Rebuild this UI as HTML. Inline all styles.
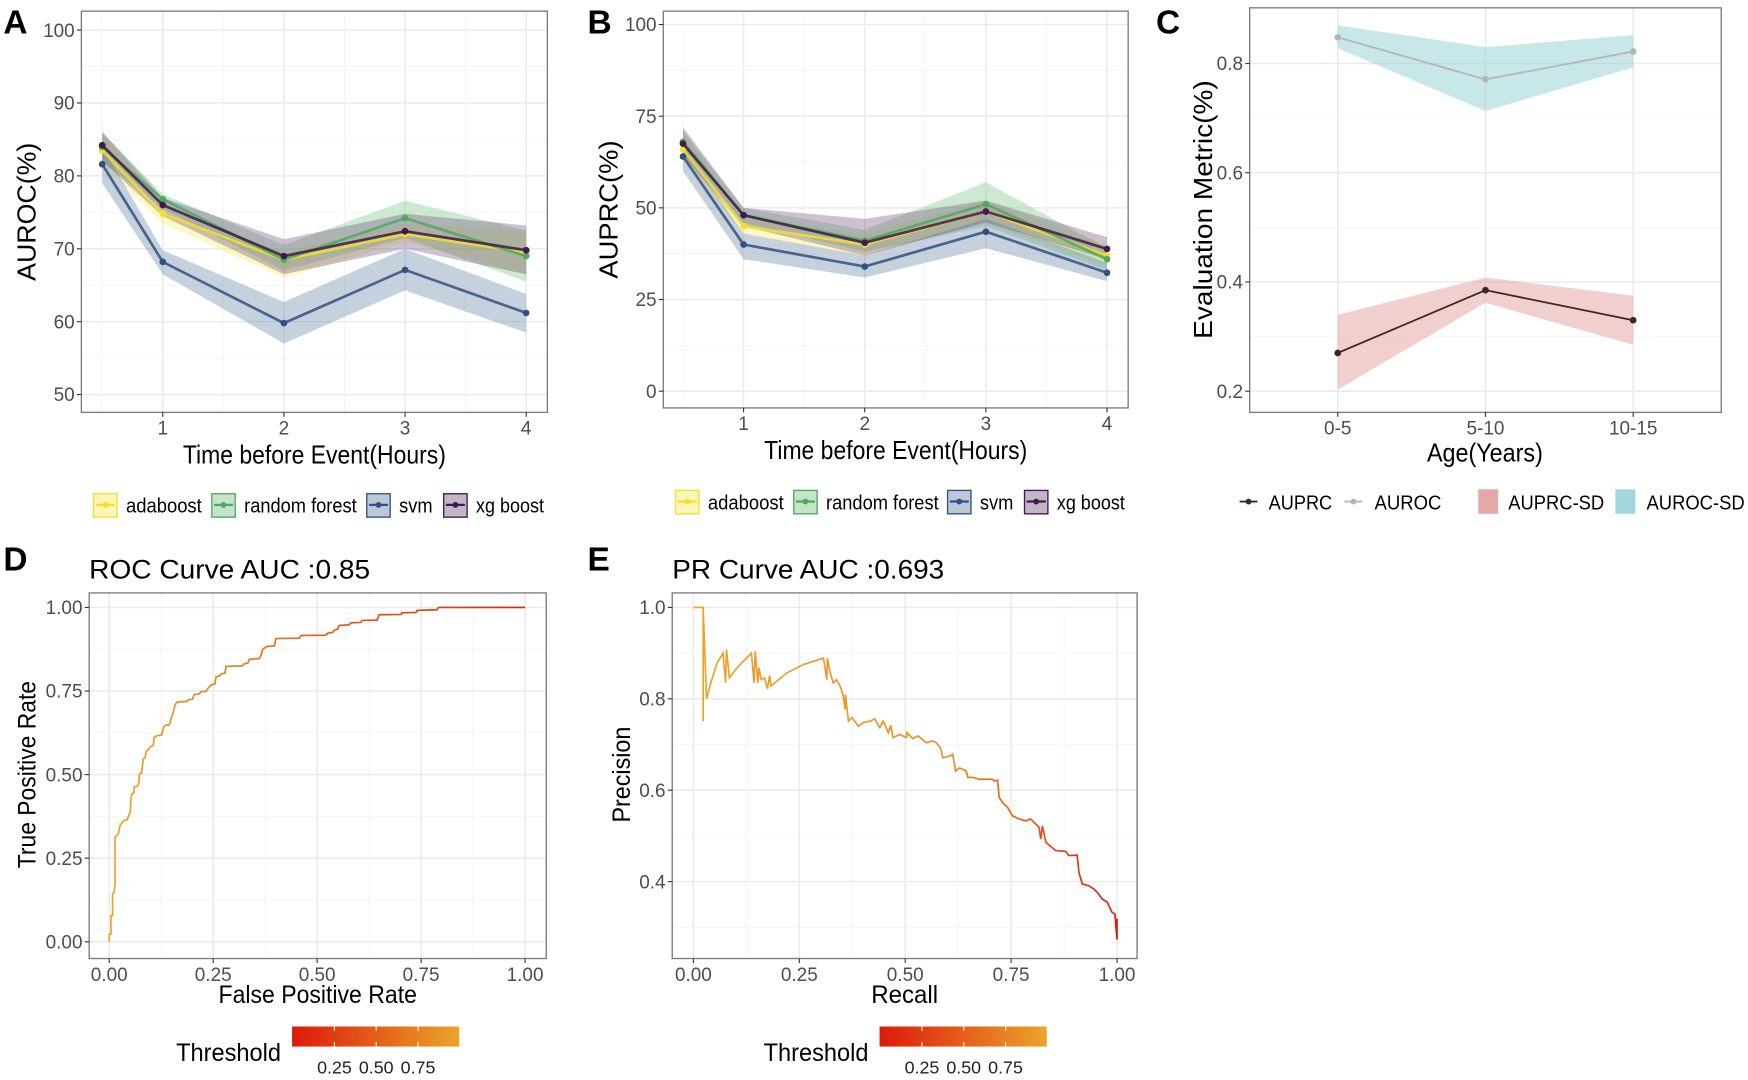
<!DOCTYPE html>
<html><head><meta charset="utf-8"><style>
html,body{margin:0;padding:0;background:#fff;}
svg{display:block;font-family:"Liberation Sans",sans-serif;}
</style></head><body>
<svg id="fig" width="1748" height="1080" viewBox="0 0 1568 969" preserveAspectRatio="none" xmlns="http://www.w3.org/2000/svg">
<defs>
<linearGradient id="cbar" x1="0" x2="1" y1="0" y2="0"><stop offset="0" stop-color="#DD1A0A"/><stop offset="1" stop-color="#EBA42A"/></linearGradient>
<linearGradient id="rocg" gradientUnits="userSpaceOnUse" x1="98" x2="471" y1="0" y2="0"><stop offset="0" stop-color="#EBA42A"/><stop offset="0.5" stop-color="#E2641E"/><stop offset="1" stop-color="#DD2010"/></linearGradient>
<linearGradient id="prg" gradientUnits="userSpaceOnUse" x1="622" x2="1002" y1="0" y2="0"><stop offset="0" stop-color="#EBA42A"/><stop offset="0.6" stop-color="#E8902A"/><stop offset="1" stop-color="#DD1A0A"/></linearGradient>
</defs>
</svg>
<script>
// ---------- DATA ----------
const hours = [0.5, 1, 2, 3, 4];
const models = ["adaboost", "random forest", "svm", "xg boost"];
const aurocMean = [[83.5,74.8,68.5,72.0,69.5],[84.0,76.8,68.5,74.2,69.0],[81.6,68.2,59.8,67.1,61.2],[84.2,76.0,69.0,72.4,69.8]];
const aurocLo = [[81.5,73.5,66.0,71.0,66.5],[82.0,75.5,67.0,71.5,65.5],[79.0,66.5,57.0,64.3,58.5],[82.0,74.5,66.5,70.0,66.5]];
const aurocHi = [[86.0,76.0,69.5,73.5,72.5],[86.0,77.5,70.5,76.6,72.5],[84.0,69.8,62.7,70.0,63.8],[86.0,77.0,71.3,74.8,73.2]];
const auprcMean = [[66.0,45.0,40.0,49.0,37.0],[68.0,48.0,41.0,51.0,36.0],[64.0,40.0,34.0,43.5,32.3],[67.5,48.0,40.5,49.0,38.8]];
const auprcLo = [[63,43,37,46,34],[65,46,38,45,33],[60,36,31,39,30],[64,45,37,46,36]];
const auprcHi = [[71,47,43,52,40],[71,50,44,57,39],[67,43,37,47,35],[72,50,47,52,42]];
const ageGroups = ["0-5","5-10","10-15"];
const ageAuroc = [0.848,0.771,0.822];
const ageAurocLo = [0.828,0.713,0.793];
const ageAurocHi = [0.870,0.830,0.852];
const ageAuprc = [0.270,0.385,0.330];
const ageAuprcLo = [0.203,0.362,0.285];
const ageAuprcHi = [0.340,0.408,0.375];
const rocFpr = [0,0,.004,.004,.008,.008,.012,.014,.014,.018,.022,.026,.030,.036,.043,.047,.051,.052,.055,.059,.060,.068,.071,.073,.078,.082,.086,.089,.094,.099,.106,.108,.114,.126,.131,.136,.145,.150,.155,.158,.163,.187,.190,.200,.204,.217,.221,.233,.238,.245,.254,.257,.265,.269,.278,.281,.321,.325,.333,.337,.361,.365,.369,.379,.397,.401,.457,.461,.521,.525,.537,.541,.549,.553,.577,.581,.605,.608,.644,.649,.702,.704,.738,.740,.788,.792,1];
const rocTpr = [0,.023,.023,.078,.078,.143,.148,.178,.313,.318,.323,.348,.355,.363,.365,.378,.391,.428,.443,.445,.463,.465,.475,.503,.505,.548,.550,.570,.575,.583,.588,.611,.616,.618,.643,.648,.649,.673,.691,.708,.717,.719,.724,.725,.739,.742,.748,.749,.759,.768,.771,.793,.795,.801,.803,.824,.825,.832,.833,.845,.847,.857,.875,.883,.885,.907,.908,.916,.917,.923,.925,.932,.935,.946,.948,.954,.955,.961,.962,.978,.979,.984,.985,.991,.993,1,1];
const prRecall = [0,.016,.023,.023,.023,.031,.041,.056,.070,.076,.078,.085,.103,.137,.143,.146,.152,.155,.160,.168,.175,.180,.183,.221,.260,.307,.315,.316,.323,.330,.338,.346,.354,.358,.359,.366,.374,.381,.389,.401,.417,.428,.440,.448,.460,.466,.471,.487,.503,.504,.518,.530,.550,.565,.573,.583,.589,.605,.612,.619,.628,.644,.648,.659,.675,.706,.710,.718,.722,.730,.742,.753,.769,.785,.796,.816,.820,.824,.832,.855,.879,.886,.906,.910,.918,.933,.945,.953,.965,.977,.988,.995,1,1];
const prPrecision = [1,1,1,.751,1,.800,.835,.879,.900,.835,.908,.846,.868,.900,.835,.904,.835,.868,.842,.846,.822,.851,.828,.857,.875,.889,.842,.889,.857,.835,.842,.828,.806,.777,.809,.751,.759,.751,.740,.748,.751,.756,.737,.751,.726,.742,.715,.722,.715,.726,.713,.719,.704,.708,.704,.693,.671,.675,.679,.642,.649,.642,.628,.628,.624,.624,.620,.622,.584,.573,.562,.544,.537,.533,.537,.519,.493,.522,.486,.468,.466,.457,.458,.420,.395,.391,.384,.377,.362,.355,.333,.329,.273,.319];

// ---------- HELPERS ----------
const NS = "http://www.w3.org/2000/svg";
const svg = document.getElementById('fig');
function mk(tag, attrs, parent, text){
  const e = document.createElementNS(NS, tag);
  for (const k in attrs) e.setAttribute(k, attrs[k]);
  if (text !== undefined) e.textContent = text;
  (parent || svg).appendChild(e);
  return e;
}
const modelColors = ["#F2E02A","#4FA860","#34507E","#3E1A4E"];
const modelFill = ["#F7EC60","#7CC48A","#6A86A8","#7A5A86"];
const tickCol = "#4D4D4D";

function panelFrame(g, x0, x1, y0, y1, xMajor, xMinor, yMajor, yMinor){
  mk('rect',{x:x0,y:y0,width:x1-x0,height:y1-y0,fill:'#fff'},g);
  yMinor.forEach(y=>{const l=mk('line',{x1:x0,x2:x1,y1:y,y2:y,stroke:'#F4F4F4','stroke-width':0.8},g);});
  xMinor.forEach(x=>{const l=mk('line',{x1:x,x2:x,y1:y0,y2:y1,stroke:'#F4F4F4','stroke-width':0.8},g);});
  yMajor.forEach(y=>{const l=mk('line',{x1:x0,x2:x1,y1:y,y2:y,stroke:'#EBEBEB','stroke-width':1.4},g);});
  xMajor.forEach(x=>{const l=mk('line',{x1:x,x2:x,y1:y0,y2:y1,stroke:'#EBEBEB','stroke-width':1.4},g);});
}
function panelBorder(g,x0,x1,y0,y1){
  const r=mk('rect',{x:x0,y:y0,width:x1-x0,height:y1-y0,fill:'none',stroke:'#7A7A7A','stroke-width':1.2},g);
  
}
function xTicks(g, positions, labels, y1, size){
  positions.forEach((x,i)=>{
    mk('line',{x1:x,x2:x,y1:y1,y2:y1+4,stroke:'#333','stroke-width':1},g);
    const t=mk('text',{x:x,y:y1+20,'text-anchor':'middle','font-size':size||17,fill:tickCol},g,labels[i]);
    
  });
}
function yTicks(g, positions, labels, x0, size){
  positions.forEach((y,i)=>{
    mk('line',{x1:x0-4,x2:x0,y1:y,y2:y,stroke:'#333','stroke-width':1},g);
    const t=mk('text',{x:x0-6,y:y+6,'text-anchor':'end','font-size':size||17,fill:tickCol},g,labels[i]);
    
  });
}
function label(g,txt,x,y,size,name,opts){
  const a=Object.assign({x:x,y:y,'font-size':size,fill:'#000'},opts||{});
  const t=mk('text',a,g,txt);
  
  return t;
}
function yTitle(g,txt,x,cy,size,len){
  const t=mk('text',{x:0,y:0,'text-anchor':'middle','font-size':size,fill:'#000',transform:`translate(${x},${cy}) rotate(-90)`,textLength:len,lengthAdjust:'spacingAndGlyphs'},g,txt);
  
}
function ribbonPath(xs, lo, hi, X, Y){
  let d='';
  xs.forEach((v,i)=>{d+=(i?'L':'M')+X(v)+','+Y(hi[i]);});
  for(let i=xs.length-1;i>=0;i--) d+='L'+X(xs[i])+','+Y(lo[i]);
  return d+'Z';
}
function linePath(xs, ys, X, Y){
  return xs.map((v,i)=>(i?'L':'M')+X(v)+','+Y(ys[i])).join('');
}

// ---------- PANELS A & B ----------
function timePanel(name, letter, lx, x0, x1, y0, y1, X, Y, yVals, yLabs, yMin, mean, lo, hi, ytitle, ytx, legY, legX){
  const g=mk('g',{});
  
  panelFrame(g,x0,x1,y0,y1,[1,2,3,4].map(X),[0.5,1.5,2.5,3.5].map(X),yVals.map(Y),yMin.map(Y));
  models.forEach((m,k)=>{
    const p=mk('path',{d:ribbonPath(hours,lo[k],hi[k],X,Y),fill:modelFill[k],'fill-opacity':0.38,stroke:'none'},g);
    
  });
  models.forEach((m,k)=>{
    const p=mk('path',{d:linePath(hours,mean[k],X,Y),fill:'none',stroke:modelColors[k],'stroke-width':2.4,'stroke-opacity':0.85},g);
    
    hours.forEach((h,i)=>{
      const c=mk('circle',{cx:X(h),cy:Y(mean[k][i]),r:3,fill:modelColors[k]},g);
      
    });
  });
  panelBorder(g,x0,x1,y0,y1);
  xTicks(g,[1,2,3,4].map(X),['1','2','3','4'],y1);
  yTicks(g,yVals.map(Y),yLabs,x0);
  label(g,'Time before Event(Hours)',(x0+x1)/2,y1+46,23,'x-axis-title',{'text-anchor':'middle',textLength:236,lengthAdjust:'spacingAndGlyphs'});
  yTitle(g,ytitle,ytx,(y0+y1)/2,23,124);
  label(g,letter,lx,30,30,'panel-label',{'font-weight':'bold'});
  const legW=[68,101,30,61];
  models.forEach((m,k)=>{
    const lg=mk('g',{},g);
    
    const kx=legX[k];
    mk('rect',{x:kx,y:legY-10,width:21,height:21,fill:modelFill[k],'fill-opacity':0.45,stroke:modelColors[k],'stroke-width':1.2},lg);
    mk('line',{x1:kx+2,x2:kx+19,y1:legY,y2:legY,stroke:modelColors[k],'stroke-width':2},lg);
    mk('circle',{cx:kx+10.5,cy:legY,r:2.6,fill:modelColors[k]},lg);
    label(lg,m,kx+29,legY+7,18,'legend-label',{textLength:legW[k],lengthAdjust:'spacingAndGlyphs'});
  });
}
const XA=h=>146+(h-1)*108.67, YA=v=>354-(v-50)*6.54;
timePanel('panel-a-auroc','A',3,73,491,10,370,XA,YA,[50,60,70,80,90,100],['50','60','70','80','90','100'],[55,65,75,85,95],aurocMean,aurocLo,aurocHi,'AUROC(%)',32,453,[84,190,329,398]);
const XB=h=>667+(h-1)*108.67, YB=v=>351-v*3.29;
timePanel('panel-b-auprc','B',527,595,1012,10,366,XB,YB,[0,25,50,75,100],['0','25','50','75','100'],[12.5,37.5,62.5,87.5],auprcMean,auprcLo,auprcHi,'AUPRC(%)',554,450,[606,712,850,919]);

// ---------- PANEL C ----------
(function(){
  const g=mk('g',{});
  const x0=1121,x1=1544,y0=7,y1=370;
  const X=i=>1200+i*132.5, Y=v=>351-(v-0.2)*490;
  const idx=ageGroups.map((_,i)=>i);
  panelFrame(g,x0,x1,y0,y1,idx.map(X),[],[0.2,0.4,0.6,0.8].map(Y),[0.3,0.5,0.7].map(Y));
  let p=mk('path',{d:ribbonPath(idx,ageAurocLo,ageAurocHi,X,Y),fill:'#8FCFD3','fill-opacity':0.5},g);
  
  p=mk('path',{d:ribbonPath(idx,ageAuprcLo,ageAuprcHi,X,Y),fill:'#E5A0A0','fill-opacity':0.5},g);
  
  p=mk('path',{d:linePath(idx,ageAuroc,X,Y),fill:'none',stroke:'#B5B5B5','stroke-width':1.6},g);
  
  p=mk('path',{d:linePath(idx,ageAuprc,X,Y),fill:'none',stroke:'#3A2828','stroke-width':1.6},g);
  
  idx.forEach(i=>{
    let c=mk('circle',{cx:X(i),cy:Y(ageAuroc[i]),r:3,fill:'#B5B5B5'},g);
    c=mk('circle',{cx:X(i),cy:Y(ageAuprc[i]),r:3,fill:'#3A2828'},g);
  });
  panelBorder(g,x0,x1,y0,y1);
  xTicks(g,idx.map(X),ageGroups,y1);
  yTicks(g,[0.2,0.4,0.6,0.8].map(Y),['0.2','0.4','0.6','0.8'],x0);
  label(g,'Age(Years)',1332,414,23,'x-axis-title',{'text-anchor':'middle',textLength:104,lengthAdjust:'spacingAndGlyphs'});
  yTitle(g,'Evaluation Metric(%)',1087,188,23,232);
  label(g,'C',1037,30,30,'panel-label',{'font-weight':'bold'});
  const ly=450;
  let lg=mk('g',{},g);
  mk('line',{x1:1112,x2:1128,y1:ly,y2:ly,stroke:'#3A2828','stroke-width':1.6},lg);mk('circle',{cx:1120,cy:ly,r:2.6,fill:'#3A2828'},lg);
  label(lg,'AUPRC',1138,ly+7,18,'legend-label',{textLength:57,lengthAdjust:'spacingAndGlyphs'});
  lg=mk('g',{},g);
  mk('line',{x1:1206,x2:1222,y1:ly,y2:ly,stroke:'#B5B5B5','stroke-width':1.6},lg);mk('circle',{cx:1214,cy:ly,r:2.6,fill:'#B5B5B5'},lg);
  label(lg,'AUROC',1233,ly+7,18,'legend-label',{textLength:60,lengthAdjust:'spacingAndGlyphs'});
  lg=mk('g',{},g);
  mk('rect',{x:1326,y:ly-11,width:18,height:22,fill:'#E5A8A8'},lg);
  label(lg,'AUPRC-SD',1353,ly+7,18,'legend-label',{textLength:86,lengthAdjust:'spacingAndGlyphs'});
  lg=mk('g',{},g);
  mk('rect',{x:1449,y:ly-11,width:18,height:22,fill:'#A2D6DA'},lg);
  label(lg,'AUROC-SD',1477,ly+7,18,'legend-label',{textLength:88,lengthAdjust:'spacingAndGlyphs'});
})();

// ---------- PANELS D & E ----------
function curvePanel(name, letter, lx, x0, x1, y0, y1, X, Y, xVals, xLabs, xMin, yVals, yLabs, yMin, xs, ys, grad, title, titleLen, xtitle, xtLen, ytitle, ytLen, ytx, cbx){
  const g=mk('g',{});
  panelFrame(g,x0,x1,y0,y1,xVals.map(X),xMin.map(X),yVals.map(Y),yMin.map(Y));
  const p=mk('path',{d:linePath(xs,ys,X,Y),fill:'none',stroke:grad,'stroke-width':1.5,'stroke-linejoin':'miter'},g);
  
  panelBorder(g,x0,x1,y0,y1);
  xTicks(g,xVals.map(X),xLabs,y1);
  yTicks(g,yVals.map(Y),yLabs,x0);
  label(g,title,x0,y0-13,24,'chart-title',{textLength:titleLen,lengthAdjust:'spacingAndGlyphs'});
  label(g,xtitle,(x0+x1)/2,y1+40,22,'x-axis-title',{'text-anchor':'middle',textLength:xtLen,lengthAdjust:'spacingAndGlyphs'});
  yTitle(g,ytitle,ytx,695,22,ytLen);
  label(g,letter,lx,512,30,'panel-label',{'font-weight':'bold'});
  const cb=mk('g',{},g);
  label(cb,'Threshold',cbx-104,952,22,'colorbar-title',{textLength:94,lengthAdjust:'spacingAndGlyphs'});
  mk('rect',{x:cbx,y:921,width:150,height:18,fill:'url(#cbar)'},cb);
  [0.25,0.5,0.75].forEach((v,i)=>{
    const tx=cbx+38+i*37.5;
    mk('line',{x1:tx,x2:tx,y1:921,y2:925,stroke:'#fff','stroke-width':1},cb);
    mk('line',{x1:tx,x2:tx,y1:935,y2:939,stroke:'#fff','stroke-width':1},cb);
    label(cb,v.toFixed(2),tx,963,16,'colorbar-tick-label',{'text-anchor':'middle',fill:'#222'});
  });
}
const XD=f=>98+f*373, YD=t=>845-t*300;
curvePanel('panel-d-roc','D',3,80,490,532,860,XD,YD,[0,.25,.5,.75,1],['0.00','0.25','0.50','0.75','1.00'],[.125,.375,.625,.875],[0,.25,.5,.75,1],['0.00','0.25','0.50','0.75','1.00'],[.125,.375,.625,.875],rocFpr,rocTpr,'url(#rocg)','ROC Curve AUC :0.85',252,'False Positive Rate',178,'True Positive Rate',168,32,262);
const XE=r=>622+r*380, YE=p=>545+(1-p)*410;
curvePanel('panel-e-pr','E',527,603,1020,532,860,XE,YE,[0,.25,.5,.75,1],['0.00','0.25','0.50','0.75','1.00'],[.125,.375,.625,.875],[.4,.6,.8,1],['0.4','0.6','0.8','1.0'],[.3,.5,.7,.9],prRecall,prPrecision,'url(#prg)','PR Curve AUC :0.693',244,'Recall',60,'Precision',86,565,789);
</script>
</body></html>
